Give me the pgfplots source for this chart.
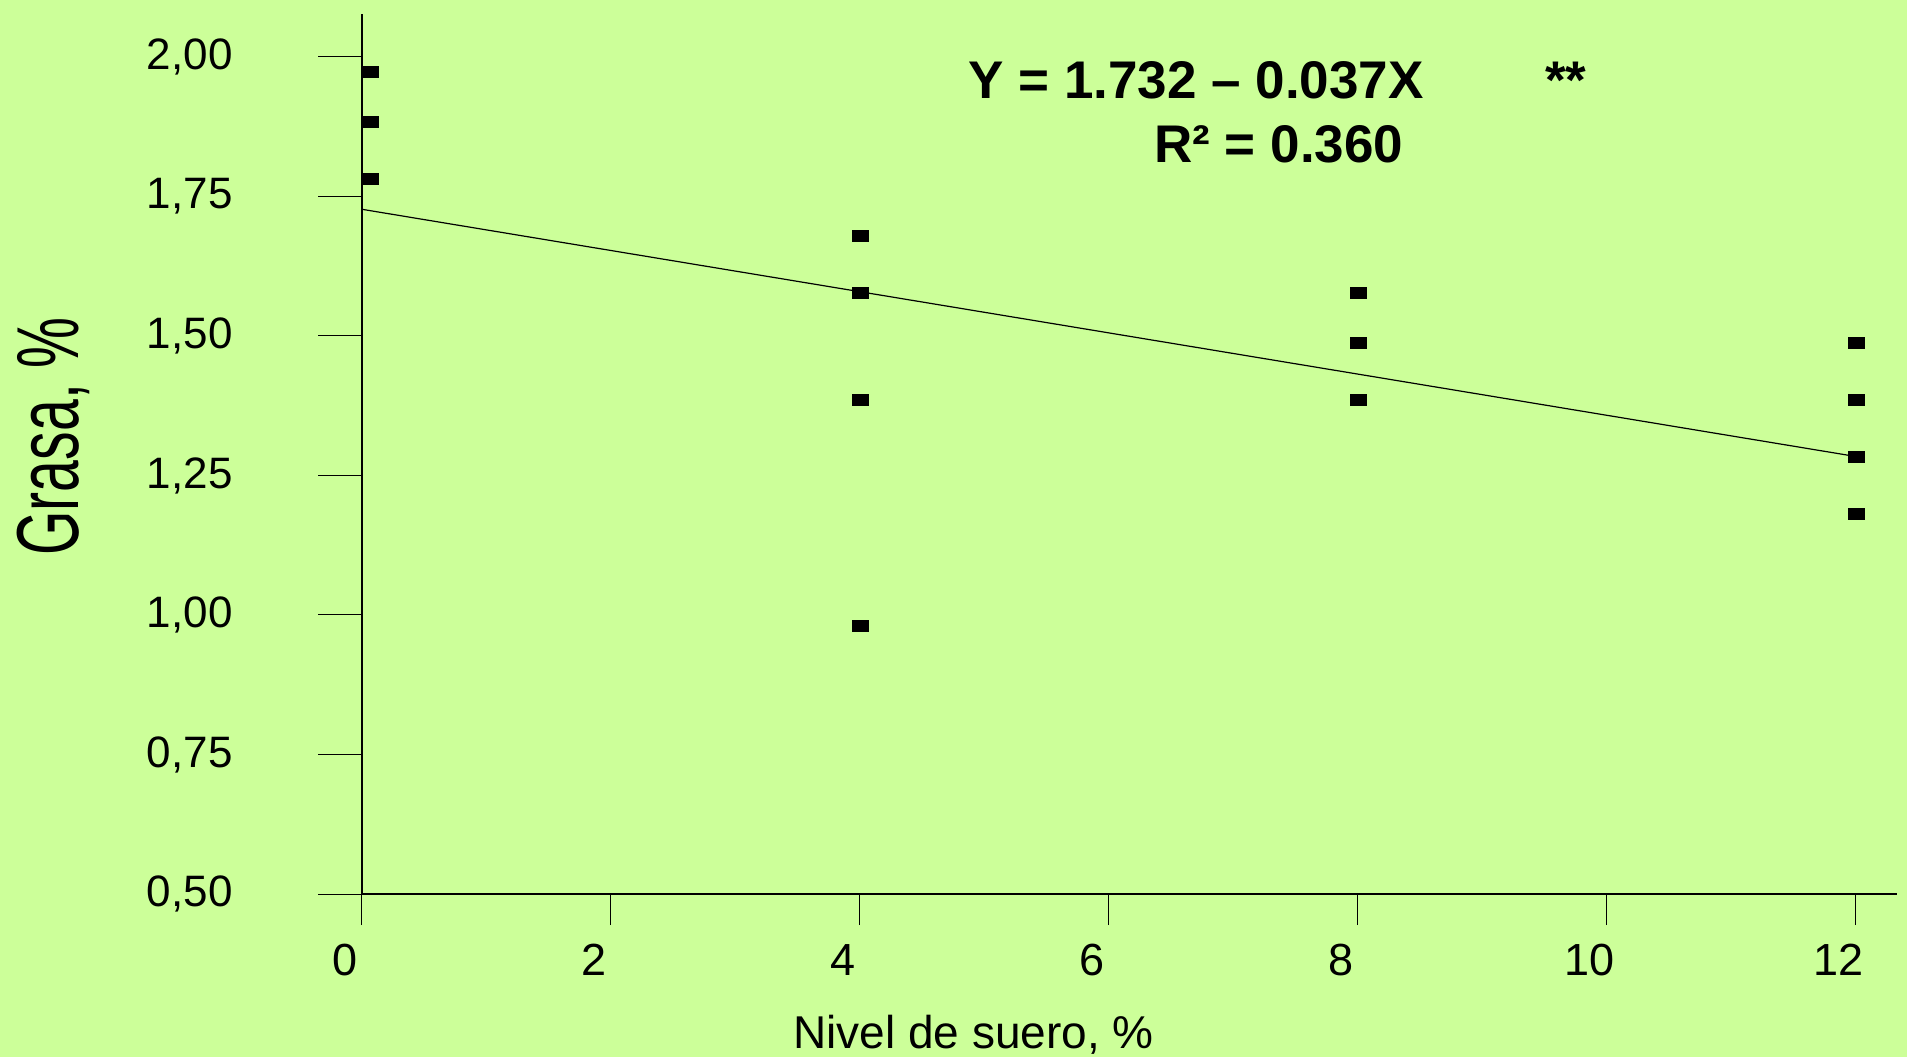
\documentclass[border=0pt]{standalone}
\usepackage{pgfplots}
\pgfplotsset{compat=1.18}
\usepackage{fontspec}
\setmainfont{Liberation Sans}
\definecolor{bg}{HTML}{CCFF99}
\begin{document}
\begin{tikzpicture}
\fill[bg] (0,0) rectangle (953.5pt,528.5pt);
\useasboundingbox (0,0) rectangle (953.5pt,528.5pt);
\begin{axis}[
  at={(181pt,81.5pt)}, anchor=south west,
  scale only axis, width=767.5pt, height=440pt,
  xmin=0, xmax=12.33, ymin=0.5, ymax=2.077,
  axis x line=bottom, axis y line=left,
  axis line style={-, line width=0.6pt, black},
  xtick={0,2,4,6,8,10,12},
  ytick={0.5,0.75,1,1.25,1.5,1.75,2},
  tick align=outside,
  major tick length=22pt,
  xtick style={/pgfplots/major tick length=15.5pt, line width=0.5pt, black},
  ytick style={line width=0.5pt, black},
  /pgf/number format/assume math mode=true,
  yticklabel style={/pgf/number format/.cd, fixed, fixed zerofill, precision=2, use comma, /tikz/.cd,
     font=\fontsize{22pt}{26pt}\selectfont, anchor=east, inner sep=0pt, xshift=-42.5pt},
  xticklabel style={font=\fontsize{22.5pt}{26pt}\selectfont, anchor=center, xshift=-8.5pt, yshift=-11pt},
  xlabel={Nivel de suero, \%},
  xlabel style={at={(rel axis cs:0.2808,-0.176)}, anchor=base west, inner sep=0pt,
     font=\fontsize{23pt}{26pt}\selectfont},
  ylabel={\scalebox{0.65}[1]{\fontsize{44pt}{44pt}\selectfont Grasa, \%}},
  ylabel style={at={(rel axis cs:-0.2013,0.52)}, anchor=center, inner sep=0pt},
  clip=false,
]
\addplot[only marks, mark=square*, mark size=2.75pt,
  mark options={xscale=1.45, fill=black, draw=none}] coordinates {
  (0.064,1.974) (0.064,1.883) (0.064,1.781)
  (4,1.680) (4,1.578) (4,1.385) (4,0.980)
  (8,1.578) (8,1.487) (8,1.385)
  (12,1.487) (12,1.385) (12,1.283) (12,1.182)
};
\addplot[black, line width=0.6pt, no marks] coordinates {(0,1.727) (12,1.284)};
\node[anchor=base west, inner sep=0pt, font=\fontsize{26.5pt}{30pt}\selectfont\bfseries]
  at (axis cs:4.867,1.9247) {Y = 1.732 -- 0.037X};
\node[anchor=base west, inner sep=0pt, font=\fontsize{26.5pt}{30pt}\selectfont\bfseries]
  at (axis cs:9.502,1.9247) {**};
\node[anchor=base west, inner sep=0pt, font=\fontsize{26.5pt}{30pt}\selectfont\bfseries]
  at (axis cs:6.361,1.810) {R² = 0.360};
\end{axis}
\end{tikzpicture}
\end{document}
